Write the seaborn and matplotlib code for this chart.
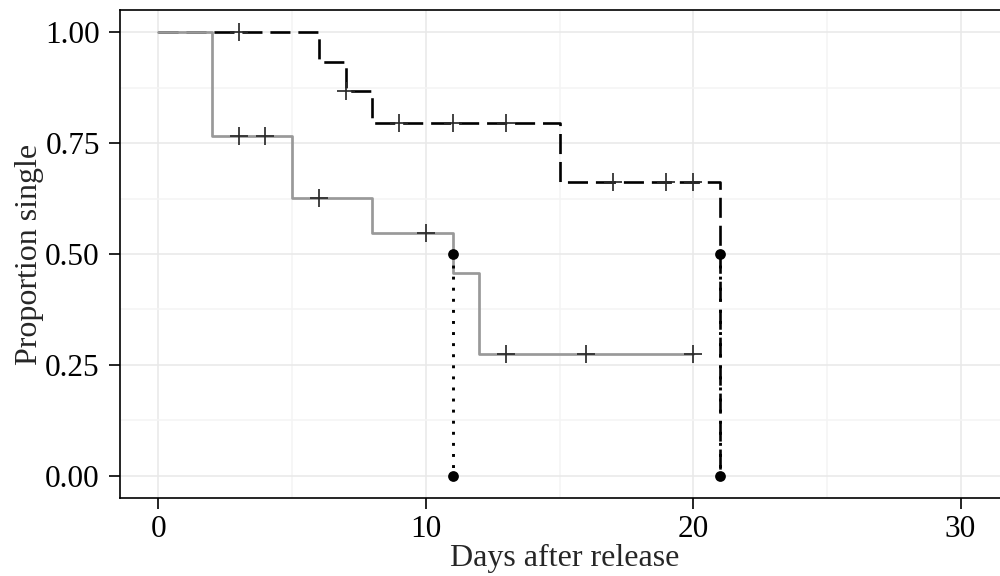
import matplotlib
matplotlib.use("Agg")
import matplotlib.pyplot as plt
import seaborn as sns
import pandas as pd
import numpy as np

# ---- data ----
grey_time = [0, 2, 5, 8, 11, 12, 20]
grey_surv = [1.0, 0.765, 0.627, 0.548, 0.457, 0.274, 0.274]
black_time = [0, 6, 7, 8, 15, 21]
black_surv = [1.0, 0.933, 0.867, 0.796, 0.663, 0.0]

grey_cens_time = [3, 4, 6, 10, 13, 16, 20]
grey_cens_surv = [0.765, 0.765, 0.627, 0.548, 0.274, 0.274, 0.274]
black_cens_time = [3, 7, 9, 11, 13, 17, 19, 20]
black_cens_surv = [1.0, 0.867, 0.796, 0.796, 0.796, 0.663, 0.663, 0.663]

median_time = [11, 21]
median_level = [0.5, 0.5]

x_ticks = [0, 10, 20, 30]
y_ticks = [0.0, 0.25, 0.5, 0.75, 1.0]
y_ticklabels = ["0.00", "0.25", "0.50", "0.75", "1.00"]
title = "Kentish plover"
x_label = "Days after release"
y_label = "Proportion single"

# ---- style ----
sns.set_style("white")
plt.rcParams["font.family"] = ["Liberation Serif", "DejaVu Serif"]

fig = plt.figure(figsize=(10, 5.76), dpi=100)
ax = fig.add_axes([0.12, 78 / 576, 0.89, 488 / 576])

black_df = pd.DataFrame({"t": black_time, "s": black_surv})
grey_df = pd.DataFrame({"t": grey_time, "s": grey_surv})

LW = 1.9
sns.lineplot(data=black_df, x="t", y="s", ax=ax, color="black", lw=LW,
             drawstyle="steps-post", estimator=None, sort=False, zorder=3)
ax.lines[-1].set_dashes((7.6, 3.0))
ax.lines[-1].set_dash_capstyle("butt")
sns.lineplot(data=grey_df, x="t", y="s", ax=ax, color="#999999", lw=1.95,
             drawstyle="steps-post", estimator=None, sort=False, zorder=4)

# median lines
for t, lvl in zip(median_time, median_level):
    seg = pd.DataFrame({"t": [t, t], "s": [lvl, 0.0]})
    sns.lineplot(data=seg, x="t", y="s", ax=ax, color="black", lw=2.1,
                 estimator=None, sort=False, zorder=5)
    ax.lines[-1].set_dashes((1, 2.8))
    ax.lines[-1].set_dash_capstyle("butt")
pts = pd.DataFrame({"t": median_time + median_time,
                    "s": median_level + [0.0] * len(median_time)})
sns.scatterplot(data=pts, x="t", y="s", ax=ax, color="black", s=60,
                edgecolor="black", linewidth=0, zorder=7)

# censor marks
cens = pd.DataFrame({"t": grey_cens_time + black_cens_time,
                     "s": grey_cens_surv + black_cens_surv})
sns.scatterplot(data=cens, x="t", y="s", ax=ax, marker="+", color="#2b2b2b",
                s=150, linewidth=1.25, zorder=6)

ax.set_xlim(-1.44, 31.85)
ax.set_ylim(-0.05, 1.05)
ax.set_xticks(x_ticks)
ax.set_xticks([5, 15, 25], minor=True)
ax.set_yticks(y_ticks)
ax.set_yticklabels(y_ticklabels)
ax.set_yticks([0.125, 0.375, 0.625, 0.875], minor=True)
ax.grid(True, which="major", color="#e8e8e8", lw=1.1)
ax.grid(True, which="minor", color="#f4f4f4", lw=1.1)
ax.set_axisbelow(True)
ax.tick_params(axis="both", which="major", direction="out", length=8,
               width=1.2, color="black", labelsize=22.5, labelcolor="black",
               left=True, bottom=True)
ax.tick_params(axis="x", which="major", pad=4)
ax.tick_params(axis="y", which="major", pad=6.5)
ax.tick_params(which="minor", length=0)
for side in ["left", "top", "bottom"]:
    ax.spines[side].set_visible(True)
    ax.spines[side].set_color("black")
    ax.spines[side].set_linewidth(1.2)
ax.spines["right"].set_visible(False)

ax.set_xlabel(x_label, fontsize=23, labelpad=0)
ax.set_ylabel(y_label, fontsize=23, labelpad=1)
fig.text(0.567, 1.0 + 16 / 576, title, ha="center", va="baseline",
         fontsize=24)

fig.savefig("out.png", dpi=100)
